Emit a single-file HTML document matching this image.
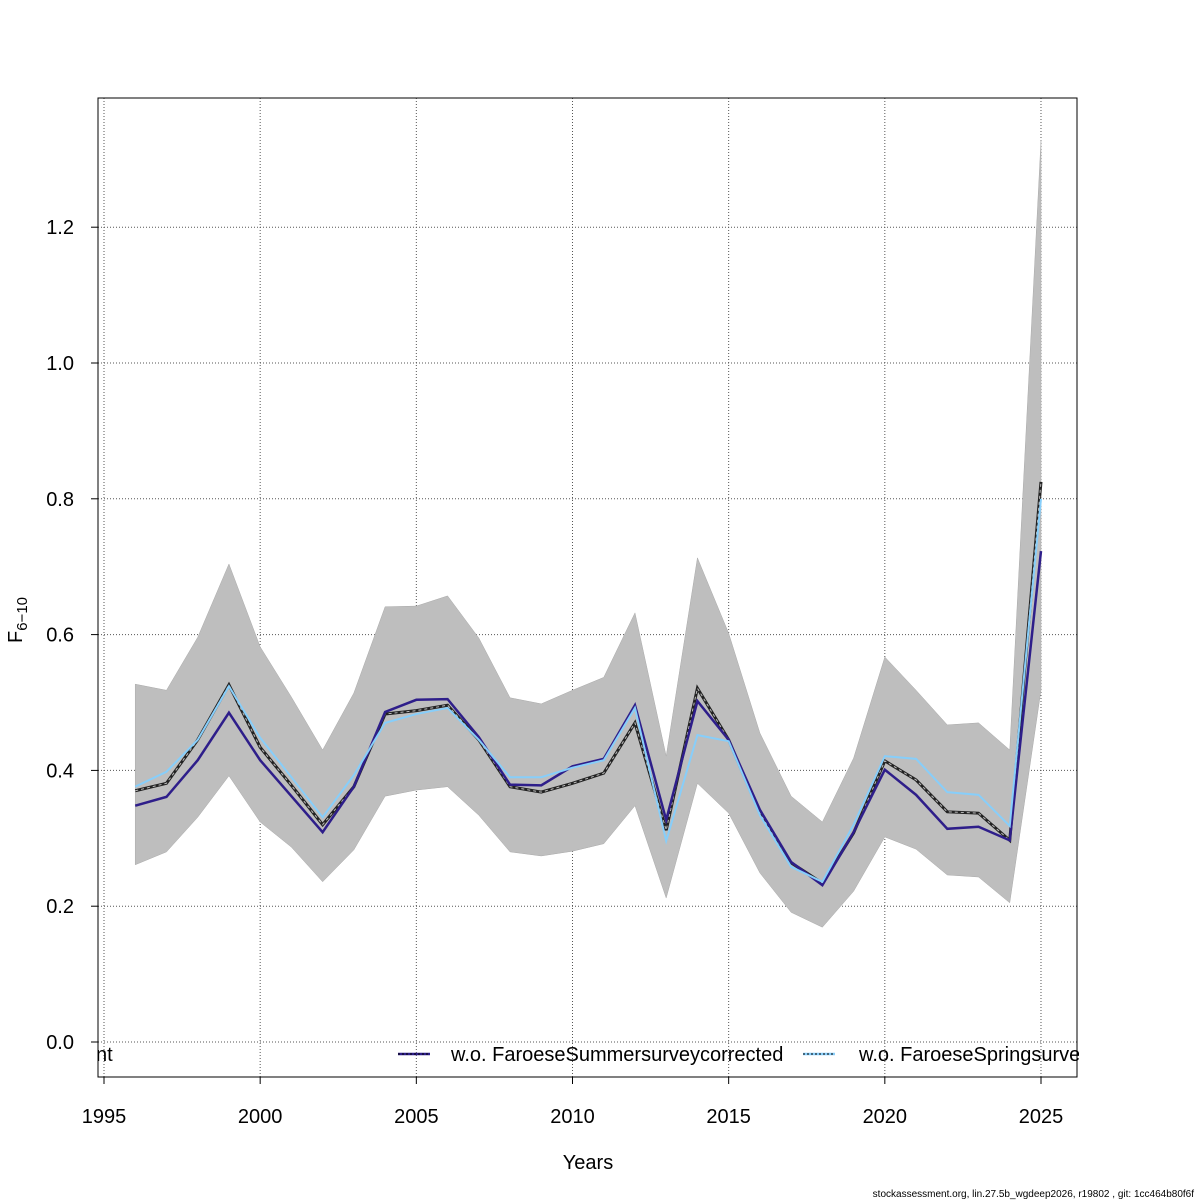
<!DOCTYPE html>
<html><head><meta charset="utf-8"><style>
html,body{margin:0;padding:0;background:#fff;}
svg{display:block;font-family:"Liberation Sans",Arial,sans-serif;}
</style></head><body>
<svg id="chart" width="1200" height="1200" viewBox="0 0 1200 1200">
<defs><clipPath id="plotclip"><rect x="98" y="98" width="981" height="979"/></clipPath></defs>
<g id="grid"></g>
<g id="band" clip-path="url(#plotclip)"></g>
<g id="lines" clip-path="url(#plotclip)"></g>
<rect x="98" y="98" width="979" height="979" fill="none" stroke="#000" stroke-width="1"/>
<g id="axes"></g>
<g clip-path="url(#plotclip)">
<text x="96" y="1061" font-size="20">nt</text>
<line x1="398" y1="1054" x2="430" y2="1054" stroke="#2e1e8a" stroke-width="2.5"/>
<line x1="398" y1="1054" x2="430" y2="1054" stroke="#000" stroke-width="1" stroke-dasharray="2,2"/>
<text x="451" y="1061" font-size="20">w.o. FaroeseSummersurveycorrected</text>
<line x1="803" y1="1054" x2="835" y2="1054" stroke="#87cefa" stroke-width="2.5"/>
<line x1="803" y1="1054" x2="835" y2="1054" stroke="#000" stroke-width="1" stroke-dasharray="2,2"/>
<text x="859" y="1061" font-size="20">w.o. FaroeseSpringsurvey</text>
</g>
<text x="588" y="1169" font-size="20" text-anchor="middle">Years</text>
<text transform="translate(22,620) rotate(-90)" font-size="20" text-anchor="middle">F<tspan font-size="15" dy="5">6−10</tspan></text>
<text x="1194" y="1197" font-size="10" text-anchor="end">stockassessment.org, lin.27.5b_wgdeep2026, r19802 , git: 1cc464b80f6f</text>
</svg>
<script>
const years=[1996,1997,1998,1999,2000,2001,2002,2003,2004,2005,2006,2007,2008,2009,2010,2011,2012,2013,2014,2015,2016,2017,2018,2019,2020,2021,2022,2023,2024,2025];
const baseF=[0.370,0.381,0.445,0.526,0.434,0.378,0.320,0.376,0.483,0.488,0.496,0.445,0.376,0.368,0.381,0.396,0.470,0.312,0.521,0.445,0.337,0.264,0.234,0.308,0.414,0.386,0.339,0.337,0.297,0.825];
const upperF=[0.527,0.518,0.596,0.704,0.582,0.508,0.430,0.514,0.641,0.642,0.657,0.595,0.507,0.498,0.518,0.537,0.632,0.421,0.713,0.602,0.455,0.362,0.324,0.418,0.567,0.518,0.467,0.470,0.430,1.328];
const lowerF=[0.261,0.280,0.331,0.392,0.324,0.287,0.236,0.283,0.362,0.371,0.376,0.334,0.280,0.274,0.281,0.292,0.348,0.212,0.381,0.337,0.249,0.191,0.169,0.222,0.302,0.284,0.246,0.243,0.205,0.518];
const summerF=[0.348,0.361,0.415,0.485,0.415,0.362,0.309,0.376,0.486,0.504,0.505,0.449,0.379,0.378,0.406,0.417,0.496,0.327,0.502,0.445,0.342,0.265,0.231,0.309,0.401,0.364,0.314,0.317,0.297,0.723];
const springF=[0.376,0.398,0.445,0.524,0.448,0.390,0.331,0.393,0.470,0.483,0.492,0.445,0.390,0.390,0.404,0.415,0.492,0.296,0.452,0.443,0.334,0.258,0.236,0.320,0.421,0.417,0.368,0.364,0.318,0.800];
const xTicks=[1995,2000,2005,2010,2015,2020,2025];
const yTicks=[0.0,0.2,0.4,0.6,0.8,1.0,1.2];
const yTickLabels=["0.0","0.2","0.4","0.6","0.8","1.0","1.2"];

const NS="http://www.w3.org/2000/svg";
function xs(yr){return 104+(yr-1995)*31.233;}
function ys(v){return 1042-v*679;}
function mk(tag,attrs,parent){const e=document.createElementNS(NS,tag);for(const k in attrs)e.setAttribute(k,attrs[k]);parent.appendChild(e);return e;}
const grid=document.getElementById('grid'),axes=document.getElementById('axes'),band=document.getElementById('band'),lines=document.getElementById('lines');

xTicks.forEach(t=>{
 const g=mk('line',{x1:xs(t),x2:xs(t),y1:98,y2:1077,stroke:'#555','stroke-width':1,'stroke-dasharray':'1,2'},grid);
 
 
 const tk=mk('line',{x1:xs(t),x2:xs(t),y1:1077,y2:1084,stroke:'#000'},axes);
 
 
 const tx=mk('text',{x:xs(t),y:1123,'font-size':20,'text-anchor':'middle'},axes);
 tx.textContent=t;
 
 
});
yTicks.forEach((t,i)=>{
 const g=mk('line',{x1:98,x2:1077,y1:ys(t),y2:ys(t),stroke:'#555','stroke-width':1,'stroke-dasharray':'1,2'},grid);
 
 
 const tk=mk('line',{x1:91,x2:98,y1:ys(t),y2:ys(t),stroke:'#000'},axes);
 
 
 const tx=mk('text',{x:74,y:ys(t)+7,'font-size':20,'text-anchor':'end'},axes);
 tx.textContent=yTickLabels[i];
 
 
});
let d='';
years.forEach((y,i)=>{d+=(i?'L':'M')+xs(y)+','+ys(upperF[i]);});
for(let i=years.length-1;i>=0;i--)d+='L'+xs(years[i])+','+ys(lowerF[i]);
const bp=mk('path',{d:d+'Z',fill:'#bebebe',stroke:'#aaa','stroke-width':0.5},band);


function pts(arr){return years.map((y,i)=>xs(y)+','+ys(arr[i])).join(' ');}
const l1=mk('polyline',{points:pts(baseF),fill:'none',stroke:'#222','stroke-width':3},lines);


const l1b=mk('polyline',{points:pts(baseF),fill:'none',stroke:'#bbb','stroke-width':1,'stroke-dasharray':'3,3'},lines);


const l2=mk('polyline',{points:pts(summerF),fill:'none',stroke:'#2e1e8a','stroke-width':2.5},lines);


const l3=mk('polyline',{points:pts(springF),fill:'none',stroke:'#87cefa','stroke-width':2},lines);


</script>
</body></html>
